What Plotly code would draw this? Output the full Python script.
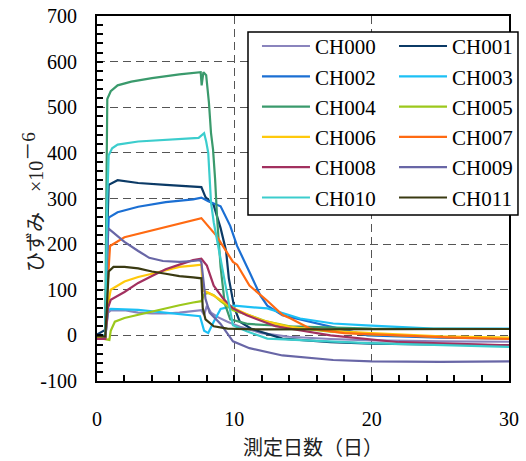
import plotly.graph_objects as go

# ---------------- data ----------------
names = ["CH000", "CH001", "CH002", "CH003", "CH004", "CH005",
         "CH006", "CH007", "CH008", "CH009", "CH010", "CH011"]

ch000_d = [0, 0.6, 0.8, 1.0, 2, 3, 4, 5, 6, 7, 7.6, 7.8, 8.0, 8.3, 8.8, 9.5, 10.5, 12, 14, 17, 20, 25, 30]
ch000_v = [-5, -4, 50, 55, 55, 50, 48, 48, 50, 53, 55, 45, 65, 50, 40, 30, 18, 5, -3, -8, -11, -13, -14]

ch001_d = [0, 0.6, 0.72, 0.85, 1.5, 3, 5, 7, 7.6, 7.9, 8.5, 9.0, 9.4, 9.6, 10.0, 10.4, 11.2, 13.5, 17, 20, 25, 30]
ch001_v = [2, 12, 200, 330, 340, 334, 330, 327, 325, 303, 285, 235, 185, 125, 60, 30, 15, -7, -15, -18, -20, -22]

ch002_d = [0, 0.6, 0.72, 0.85, 1.5, 3, 5, 7, 7.6, 8.1, 9.0, 9.7, 10.2, 10.9, 11.1, 11.9, 12.4, 13.5, 16, 19.7, 25, 30]
ch002_v = [-2, 0, 150, 258, 270, 282, 292, 298, 302, 294, 283, 240, 196, 153, 139, 87, 65, 44, 26, 0, -5, -7]

ch003_d = [0, 0.6, 0.8, 1.0, 3, 5, 6, 7, 7.5, 7.8, 8.1, 8.5, 9.0, 10, 12.4, 14.8, 17.2, 19.6, 24.5, 30]
ch003_v = [-5, -5, 55, 58, 56, 50, 47, 44, 42, 10, 5, 30, 58, 65, 59, 37, 26, 22, 15, 15]

ch004_d = [0, 0.6, 0.68, 0.75, 1.0, 1.5, 2.5, 4, 6, 7.55, 7.62, 7.75, 7.95, 8.15, 8.3, 8.45, 8.6, 8.75, 9.0, 9.3, 9.7, 11, 14, 20, 30]
ch004_v = [-3, -3, 300, 518, 535, 548, 556, 564, 572, 577, 548, 577, 570, 510, 444, 407, 342, 255, 150, 70, 35, 25, 20, 15, 14]

ch005_d = [0, 0.6, 0.9, 1.0, 1.3, 2, 3, 4, 5, 6, 7, 7.6, 7.8, 8.1, 8.5, 9.0, 9.9, 11, 12.4, 14.8, 17, 20, 25, 30]
ch005_v = [-5, -8, -10, 10, 30, 38, 45, 52, 60, 66, 72, 75, 90, 93, 88, 75, 55, 45, 30, 15, 8, 2, -3, -6]

ch006_d = [0, 0.6, 0.75, 1.0, 2, 3, 4, 5, 6, 7, 7.6, 7.7, 8.0, 8.5, 9.2, 10, 11, 12, 14, 17, 20, 25, 30]
ch006_v = [-5, -5, 60, 100, 118, 128, 135, 142, 150, 153, 155, 98, 95, 87, 74, 59, 45, 33, 18, 10, 5, -2, -5]

ch007_d = [0, 0.6, 0.75, 0.95, 2, 4, 6, 7.6, 8.7, 9.9, 10.2, 11.1, 12.4, 13.5, 14.1, 15.5, 18, 22, 26, 30]
ch007_v = [-8, -8, 100, 196, 215, 230, 245, 257, 218, 161, 155, 109, 76, 45, 37, 15, 5, 0, -5, -8]

ch008_d = [0, 0.6, 0.8, 1.0, 2, 3, 4, 5, 6, 7, 7.6, 8.0, 8.5, 9.2, 9.9, 10.9, 13, 17, 22, 30]
ch008_v = [-8, -8, 60, 78, 95, 115, 130, 145, 155, 165, 168, 153, 109, 80, 59, 44, 20, 0, -15, -22]

ch009_d = [0, 0.6, 0.8, 1.2, 2, 3, 3.8, 4.8, 6, 7, 7.5, 7.6, 7.9, 8.2, 9.0, 9.9, 11.1, 13.5, 17.2, 20, 25, 30]
ch009_v = [0, -3, 235, 225, 205, 185, 170, 163, 161, 163, 165, 160, 80, 50, 25, -13, -28, -44, -54, -57, -58, -57]

ch010_d = [0, 0.6, 0.75, 0.85, 1.1, 1.5, 3, 5, 7.4, 7.8, 7.95, 8.1, 8.3, 8.5, 8.9, 9.5, 9.9, 10.9, 12.4, 19.7, 30]
ch010_v = [0, 0, 300, 395, 410, 418, 425, 429, 433, 443, 425, 400, 292, 248, 183, 80, 22, 9, -7, -17, -25]

ch011_d = [0, 0.6, 0.7, 0.85, 1.2, 2, 3, 4, 5, 6, 7, 7.6, 7.7, 7.9, 8.5, 9.5, 12, 20, 30]
ch011_v = [-2, -2, 50, 140, 150, 150, 147, 140, 135, 130, 127, 125, 60, 35, 20, 15, 13, 13, 14]

x_tickvals = [0, 10, 20, 30]
x_ticktext = ["0", "10", "20", "30"]
y_tickvals = [-100, 0, 100, 200, 300, 400, 500, 600, 700]
y_ticktext = ["-100", "0", "100", "200", "300", "400", "500", "600", "700"]

x_title = "測定日数（日）"
y_title = "ひずみ　×10<sup><span style='font-size:19px'>－6</span></sup>"

# ---------------- styling ----------------
colors = ["#8a84bd", "#0b3a66", "#1b6fd3", "#1cc0f5", "#3a9a6c", "#9cc81c",
          "#ffc90c", "#ff6a12", "#a2305f", "#6866a6", "#3ccdcd", "#3a3a12"]

series = [(ch000_d, ch000_v), (ch001_d, ch001_v), (ch002_d, ch002_v), (ch003_d, ch003_v),
          (ch004_d, ch004_v), (ch005_d, ch005_v), (ch006_d, ch006_v), (ch007_d, ch007_v),
          (ch008_d, ch008_v), (ch009_d, ch009_v), (ch010_d, ch010_v), (ch011_d, ch011_v)]

fig = go.Figure()
for i, (name, (d, v)) in enumerate(zip(names, series)):
    fig.add_trace(go.Scatter(
        x=d, y=v, mode="lines", name=name,
        line=dict(color=colors[i], width=2.2),
        legend="legend" if i % 2 == 0 else "legend2",
    ))

serif = "Liberation Serif"
axis_common = dict(
    showline=True, linecolor="black", linewidth=2, mirror=True,
    ticks="inside", ticklen=6, tickwidth=1.5, tickcolor="black",
    showgrid=True, gridcolor="#555555", gridwidth=1, griddash="8px,5px",
    zeroline=False,
    tickfont=dict(family=serif, size=20, color="black"),
    tickmode="array",
)

legend_common = dict(
    xanchor="left", yanchor="top", y=0.973, itemwidth=48,
    bgcolor="rgba(0,0,0,0)", borderwidth=0, tracegroupgap=0,
    font=dict(family=serif, size=21, color="black"),
)

fig.update_layout(
    template="none",
    font=dict(family=serif),
    width=526, height=461,
    margin=dict(l=97, r=17, t=16, b=80, autoexpand=False),
    paper_bgcolor="white", plot_bgcolor="white",
    showlegend=True,
    xaxis=dict(range=[0, 30], tickvals=x_tickvals, ticktext=x_ticktext,
               ticklabelstandoff=19,
               minor=dict(dtick=2, tick0=0, ticks="inside", ticklen=6, tickwidth=1.5,
                          tickcolor="black", showgrid=False),
               **axis_common),
    yaxis=dict(range=[-100, 700], tickvals=y_tickvals, ticktext=y_ticktext,
               ticklabelstandoff=14,
               minor=dict(dtick=20, tick0=0, ticks="inside", ticklen=6, tickwidth=1.5,
                          tickcolor="black", showgrid=False),
               **axis_common),
    legend=dict(x=0.3883, **legend_common),
    legend2=dict(x=0.7209, **legend_common),
    shapes=[dict(type="rect", xref="paper", yref="paper",
                 x0=0.3665, x1=1.0218, y0=0.4548, y1=0.956,
                 line=dict(color="black", width=1.5), fillcolor="white", layer="above")],
    annotations=[
        dict(text=x_title, xref="paper", yref="paper", x=0.524, y=-0.18,
             xanchor="center", yanchor="middle", showarrow=False,
             font=dict(family="Noto Sans CJK JP", size=20, color="#222222")),
        dict(text=y_title, xref="paper", yref="paper", x=-0.158, y=0.49,
             xanchor="center", yanchor="middle", showarrow=False, textangle=-90,
             font=dict(family="Liberation Serif, Noto Sans CJK JP", size=20,
                       color="#222222")),
    ],
)

fig.write_html("out.html")
